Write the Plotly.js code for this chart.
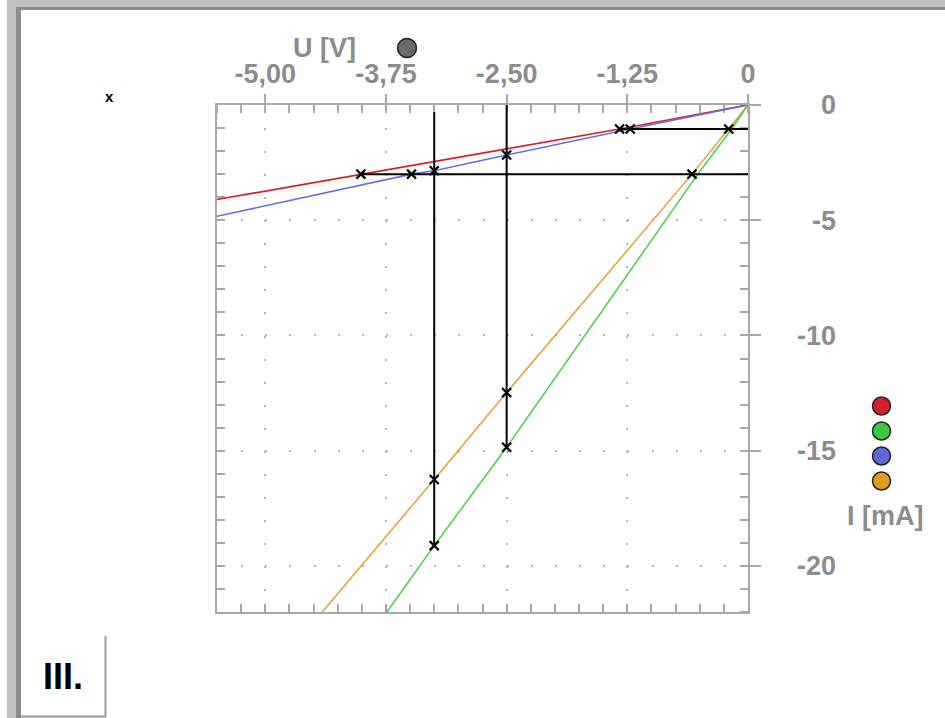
<!DOCTYPE html>
<html>
<head>
<meta charset="utf-8">
<script src="https://cdn.plot.ly/plotly-3.0.1.min.js"></script>
<style>
  html, body { margin: 0; padding: 0; background: #ffffff; }
  #chart { width: 945px; height: 718px; }
</style>
</head>
<body>
<div id="chart"></div>
<script>
// ---------- data ----------
// U in volts, I in milliamperes
const U_red = [0, -1.33, -2.5, -4.01, -5.5];
const I_red = [0, -1.04, -1.9, -3.0, -4.1];

const U_blue = [0, -1.22, -2.5, -3.25, -3.485, -5.5];
const I_blue = [0, -1.04, -2.17, -2.85, -3.0, -4.83];

const U_orange = [0, -0.2, -0.58, -2.5, -3.25, -4.41];
const I_orange = [0, -1.04, -3.0, -12.48, -16.25, -22.0];

const U_green = [0, -0.17, -0.52, -2.5, -3.25, -3.74];
const I_green = [0, -1.04, -3.0, -14.85, -19.12, -22.0];

// measurement helper lines (black)
const vLineA_U = [-3.25, -3.25];
const vLineA_I = [-0.3, -19.12];
const vLineB_U = [-2.5, -2.5];
const vLineB_I = [0, -14.85];
const hLineA_U = [-1.33, 0];
const hLineA_I = [-1.04, -1.04];
const hLineB_U = [-4.01, 0];
const hLineB_I = [-3.0, -3.0];

// cross markers
const cross_U = [-4.01, -3.485, -3.25, -2.5, -1.33, -1.22, -0.2, -0.58, -3.25, -3.25, -2.5, -2.5];
const cross_I = [-3.0, -3.0, -2.85, -2.17, -1.04, -1.04, -1.04, -3.0, -16.25, -19.12, -12.48, -14.85];

// axes ticks
const xTickVals = [-5, -3.75, -2.5, -1.25, 0];
const xTickText = ['-5,00', '-3,75', '-2,50', '-1,25', '0'];
const yTickVals = [0, -5, -10, -15, -20];
const yTickText = ['0', '-5', '-10', '-15', '-20'];

const seriesColors = ['#d2202e', '#3ec83e', '#5a68d8', '#e09d22']; // red, green, blue, orange

// ---------- layout geometry ----------
const W = 945, H = 718;
const L = 217, T = 105, PW = 531, PH = 507, R = 20;
const B = H - T - PH;
const paperW = W - L - R;
const px = p => (p - L) / paperW;
const py = p => (T + PH - p) / PH;

const axisGrey = '#a8a8a8';
const textGrey = '#8c8c8c';
const labelFont = { family: 'Liberation Sans, Arial, sans-serif', size: 27, color: textGrey, weight: 'bold' };

const lineTrace = (x, y, color, width) => ({
  type: 'scatter', mode: 'lines', x: x, y: y,
  line: { color: color, width: width },
  hoverinfo: 'skip', showlegend: false
});

const traces = [
  lineTrace(U_red, I_red, '#d2202e', 1.7),
  lineTrace(U_blue, I_blue, '#6470e0', 1.6),
  lineTrace(U_orange, I_orange, '#e5a030', 1.5),
  lineTrace(U_green, I_green, '#44d044', 1.5),
  lineTrace(vLineA_U, vLineA_I, '#000000', 2),
  lineTrace(vLineB_U, vLineB_I, '#000000', 2),
  lineTrace(hLineA_U, hLineA_I, '#000000', 2),
  lineTrace(hLineB_U, hLineB_I, '#000000', 2),
  {
    type: 'scatter', mode: 'markers', x: cross_U, y: cross_I,
    marker: { symbol: 'x-thin', size: 9, color: '#000000', line: { color: '#000000', width: 2.2 } },
    hoverinfo: 'skip', showlegend: false, cliponaxis: false
  },
  { type: 'scatter', x: [], y: [], xaxis: 'x2', yaxis: 'y2', hoverinfo: 'skip', showlegend: false },
  { type: 'scatter', x: [], y: [], xaxis: 'x', yaxis: 'y3', hoverinfo: 'skip', showlegend: false }
];

const rectPx = (x0, y0, x1, y1, fill) => ({
  type: 'rect', xref: 'paper', yref: 'paper',
  x0: px(x0), x1: px(x1), y0: py(y1), y1: py(y0),
  fillcolor: fill, line: { width: 0 }, layer: 'above'
});
const linePx = (x0, y0, x1, y1, color, width) => ({
  type: 'line', xref: 'paper', yref: 'paper',
  x0: px(x0), x1: px(x1), y0: py(y0), y1: py(y1),
  line: { color: color, width: width }
});
const circlePx = (cx, cy, d, fill) => ({
  type: 'circle', xref: 'paper', yref: 'paper',
  x0: px(cx - d / 2), x1: px(cx + d / 2), y0: py(cy + d / 2), y1: py(cy - d / 2),
  fillcolor: fill, line: { color: '#222222', width: 1.5 }
});

const shapes = [
  // window frame
  rectPx(7, 0, 945, 7, '#c0c0c0'),
  rectPx(7, 0, 16, 718, '#c0c0c0'),
  rectPx(16, 7, 945, 10, '#8c8c8c'),
  rectPx(16, 7, 21, 718, '#8c8c8c'),
  // "III." tab
  linePx(105.5, 636, 105.5, 717, '#9a9a9a', 2),
  linePx(21, 716.5, 106, 716.5, '#9a9a9a', 2),
  // U marker
  circlePx(407, 48, 19, '#6a6a6a'),
  // series color keys
  circlePx(881.5, 406, 18, seriesColors[0]),
  circlePx(881.5, 431, 18, seriesColors[1]),
  circlePx(881.5, 456, 18, seriesColors[2]),
  circlePx(881.5, 481, 18, seriesColors[3])
];

const annotations = [
  { text: 'U [V]', xref: 'paper', yref: 'paper', x: px(324), y: py(48), showarrow: false,
    xanchor: 'center', yanchor: 'middle', font: labelFont },
  { text: 'I [mA]', xref: 'paper', yref: 'paper', x: px(885), y: py(516), showarrow: false,
    xanchor: 'center', yanchor: 'middle', font: labelFont },
  { text: 'x', xref: 'paper', yref: 'paper', x: px(109), y: py(97), showarrow: false,
    xanchor: 'center', yanchor: 'middle',
    font: { family: 'Liberation Sans, Arial, sans-serif', size: 15, color: '#000000', weight: 'bold' } },
  { text: 'III.', xref: 'paper', yref: 'paper', x: px(63), y: py(676), showarrow: false,
    xanchor: 'center', yanchor: 'middle',
    font: { family: 'Liberation Sans, Arial, sans-serif', size: 36, color: '#000000', weight: 'bold' } }
];

const layout = {
  width: W, height: H,
  margin: { l: L, r: R, t: T, b: B, pad: 0 },
  paper_bgcolor: '#ffffff', plot_bgcolor: '#ffffff',
  showlegend: false,
  xaxis: {
    side: 'top', anchor: 'y', domain: [0, PW / paperW], range: [-5.5, 0],
    tickmode: 'array', tickvals: xTickVals, ticktext: xTickText,
    ticks: 'outside', ticklen: 9, tickwidth: 2, tickcolor: axisGrey,
    showline: true, linecolor: axisGrey, linewidth: 2,
    showgrid: true, gridcolor: '#b4b4b4', gridwidth: 2, griddash: '2px,21.05px',
    zeroline: false, tickfont: labelFont, ticklabelstandoff: 0,
    minor: { tickmode: 'linear', tick0: 0, dtick: 0.25, ticks: 'inside', ticklen: 8,
             tickwidth: 2, tickcolor: axisGrey, showgrid: false },
    layer: 'below traces', fixedrange: true
  },
  yaxis: {
    side: 'right', anchor: 'x', domain: [0, 1], range: [-22, 0],
    tickmode: 'array', tickvals: yTickVals, showticklabels: false,
    ticks: 'outside', ticklen: 11, tickwidth: 2, tickcolor: axisGrey,
    showline: true, linecolor: axisGrey, linewidth: 2,
    showgrid: true, gridcolor: '#b4b4b4', gridwidth: 2, griddash: '2px,22.14px',
    zeroline: false,
    minor: { tickmode: 'linear', tick0: 0, dtick: 1, ticks: 'inside', ticklen: 8,
             tickwidth: 2, tickcolor: axisGrey, showgrid: false },
    layer: 'below traces', fixedrange: true
  },
  xaxis2: {
    overlaying: 'x', side: 'bottom', anchor: 'y', range: [-5.5, 0],
    tickmode: 'linear', tick0: 0, dtick: 0.25, ticks: 'inside', ticklen: 8,
    tickwidth: 2, tickcolor: axisGrey, showline: true, linecolor: axisGrey, linewidth: 2,
    showticklabels: false, showgrid: false, zeroline: false,
    layer: 'below traces', fixedrange: true
  },
  yaxis2: {
    overlaying: 'y', side: 'left', anchor: 'x', range: [-22, 0],
    tickmode: 'linear', tick0: 0, dtick: 1, ticks: 'inside', ticklen: 8,
    tickwidth: 2, tickcolor: axisGrey, showline: true, linecolor: axisGrey, linewidth: 2,
    showticklabels: false, showgrid: false, zeroline: false,
    layer: 'below traces', fixedrange: true
  },
  yaxis3: {
    overlaying: 'y', side: 'left', anchor: 'free', position: px(836), range: [-22, 0],
    tickmode: 'array', tickvals: yTickVals, ticktext: yTickText,
    ticks: '', showline: false, showgrid: false, zeroline: false,
    tickfont: labelFont, fixedrange: true
  },
  shapes: shapes,
  annotations: annotations
};

Plotly.newPlot('chart', traces, layout, { staticPlot: true, displayModeBar: false });
</script>
</body>
</html>
